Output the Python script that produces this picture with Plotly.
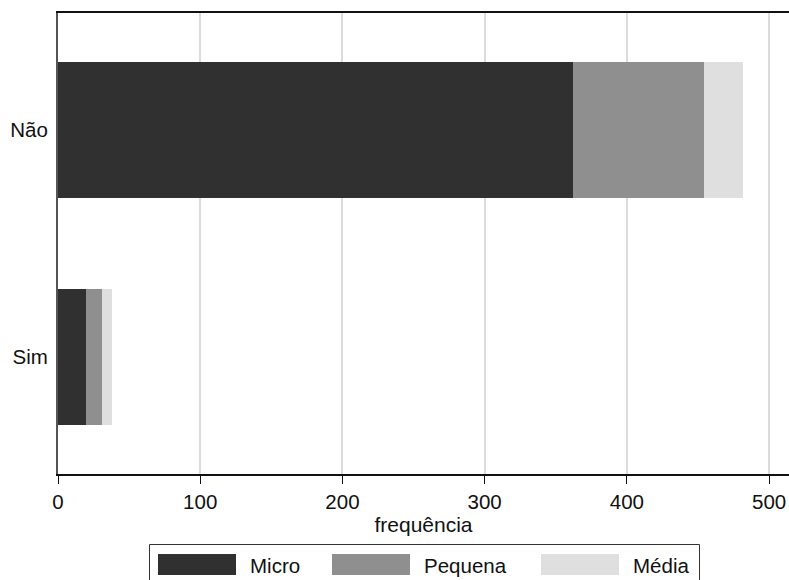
import plotly.graph_objects as go

categories = ["Não", "Sim"]
series_names = ["Micro", "Pequena", "Média"]
micro = [362, 20]
pequena = [92, 11]
media = [28, 7]
colors = ["#303030", "#8f8f8f", "#dfdfdf"]
x_ticks = [0, 100, 200, 300, 400, 500]
x_title = "frequência"

values = [micro, pequena, media]
FONT = "Liberation Sans, Arial, sans-serif"
FS = 20.5

fig = go.Figure()
for name, vals, col in zip(series_names, values, colors):
    fig.add_trace(go.Bar(
        y=categories, x=vals, name=name, orientation="h",
        marker=dict(color=col, line=dict(width=0)),
        showlegend=False,
    ))

W, H = 789, 580
ml, mr, mt, mb = 58, 0, 13, 106
pw, ph = W - ml - mr, H - mt - mb

fig.update_layout(
    width=W, height=H,
    barmode="stack", bargap=0.4,
    margin=dict(l=ml, r=mr, t=mt, b=mb, autoexpand=False),
    paper_bgcolor="white", plot_bgcolor="white",
    font=dict(family=FONT, size=FS, color="#111111"),
    xaxis=dict(
        range=[0, 514], tickvals=x_ticks, showgrid=True, gridcolor="#dcdcdc", gridwidth=2,
        showline=True, linecolor="#111111", linewidth=2, mirror=True,
        ticks="outside", ticklen=8, tickcolor="#111111", tickwidth=1,
        zeroline=False,
        title=dict(text=x_title, standoff=0, font=dict(size=21)),
        tickfont=dict(size=FS),
    ),
    yaxis=dict(
        categoryorder="array", categoryarray=categories[::-1],
        range=[-0.515, 1.515], showgrid=False, zeroline=False,
        showline=True, linecolor="#555555", linewidth=2,
        ticks="", ticklabelstandoff=4, tickfont=dict(size=FS),
    ),
)

# Custom legend drawn in pixel-like paper coordinates
def px_x(x):
    return (x - ml) / pw

def px_y(y):
    return (H - mb - y) / ph

shapes = []
annotations = []
shapes.append(dict(type="rect", xref="paper", yref="paper",
                   x0=px_x(149.5), x1=px_x(699.5), y0=px_y(590), y1=px_y(544.5),
                   line=dict(color="#333333", width=1), fillcolor="white", layer="above"))
sw_x = [158, 332, 541]
for name, col, sx in zip(series_names, colors, sw_x):
    shapes.append(dict(type="rect", xref="paper", yref="paper",
                       x0=px_x(sx), x1=px_x(sx + 78), y0=px_y(575), y1=px_y(554),
                       line=dict(width=0), fillcolor=col, layer="above"))
    annotations.append(dict(xref="paper", yref="paper", x=px_x(sx + 90), y=px_y(565),
                            text=name, showarrow=False, xanchor="left", yanchor="middle",
                            font=dict(size=FS, family=FONT, color="#111111")))
fig.update_layout(shapes=shapes, annotations=annotations)

fig.write_html("out.html", config={"displayModeBar": False},
               post_script="document.body.style.margin='0';document.body.style.overflow='hidden';")
